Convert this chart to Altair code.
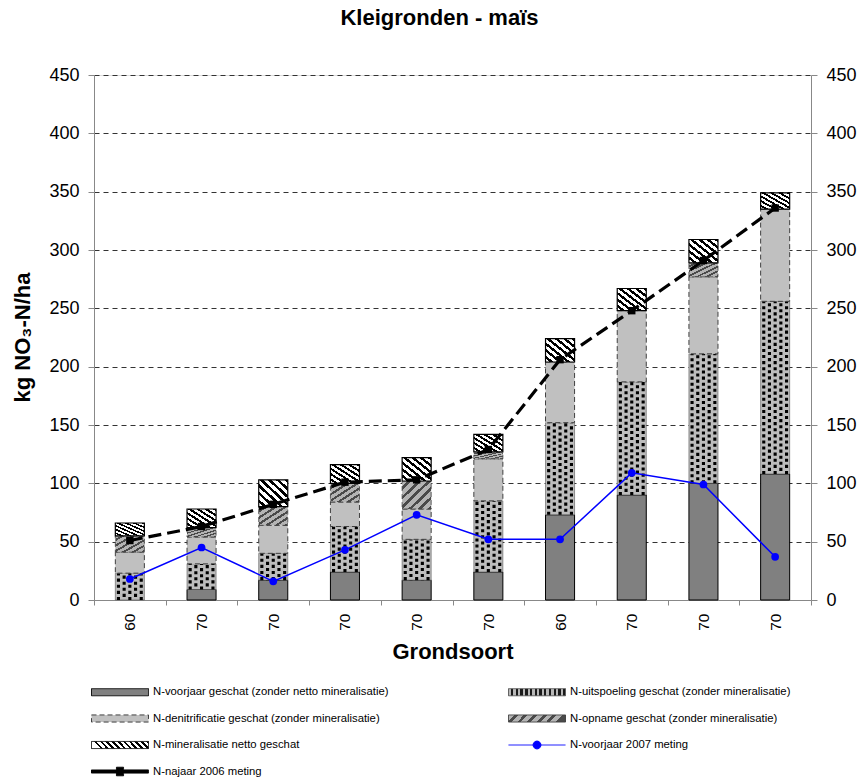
import json
import altair as alt
import pandas as pd

# Soil type label per bar (x axis)
labels = ["60", "70", "70", "70", "70", "70", "60", "70", "70", "70"]

# Stacked components (kg NO3-N/ha)
voorjaar = [0, 9, 17, 24, 17, 24, 73, 90, 100, 108]
uitspoeling = [23, 22, 23, 39, 35, 61, 79, 97, 111, 148]
denitrificatie = [18, 23, 24, 21, 26, 36, 52, 61, 66, 79]
opname = [14, 8, 16, 16, 24, 6, 0, 0, 12, 0]
mineralisatie = [11, 16, 23, 16, 20, 15, 20, 19, 20, 14]

# Measured series
meting_2007 = [18, 45, 16, 43, 73, 52, 52, 109, 99, 37]
meting_2006 = [51, 63, 82, 101, 103, 129, 206, 248, 291, 336]

series_names = [
    "N-voorjaar geschat (zonder netto mineralisatie)",
    "N-uitspoeling geschat (zonder mineralisatie)",
    "N-denitrificatie geschat (zonder mineralisatie)",
    "N-opname geschat (zonder mineralisatie)",
    "N-mineralisatie netto geschat",
    "N-voorjaar 2007 meting",
    "N-najaar 2006 meting",
]
# legend fills columns top-to-bottom; this order puts the entries in two
# columns, read row by row in the series order above
legend_order = [0, 2, 4, 6, 1, 3, 5]

FONT = "Liberation Sans"

# ---- long table with stack start/end per segment
rows = []
base = [0] * len(labels)
for name, vals in zip(series_names[:5], [voorjaar, uitspoeling, denitrificatie, opname, mineralisatie]):
    for i, v in enumerate(vals):
        rows.append({"i": i, "serie": name, "v": v, "y0": base[i], "y1": base[i] + v})
        base[i] += v
stack = pd.DataFrame(rows)
lines = pd.DataFrame({"i": list(range(len(labels))), "m2007": meting_2007, "m2006": meting_2006})


def stripes(c1, c2, n, frac, x1, y1, x2, y2):
    stops = []
    for k in range(n):
        a = k / n
        b = (k + frac) / n
        c = (k + 1) / n
        stops += [
            {"offset": a, "color": c1},
            {"offset": b, "color": c1},
            {"offset": b, "color": c2},
            {"offset": c, "color": c2},
        ]
    return {"gradient": "linear", "stops": stops, "x1": x1, "y1": y1, "x2": x2, "y2": y2}


# hatch fills for the bars
hatch_mineral = stripes("white", "black", 7, 0.55, 0, 1, 1, 0)
hatch_opname = stripes("#b4b4b4", "#4a4a4a", 6, 0.6, 0, 0, 1, 1)
# hatch fills for the legend swatches (wide, flat boxes)
leg_mineral = stripes("white", "black", 10, 0.55, 0, 0.12, 1, 0)
leg_opname = stripes("#b4b4b4", "#4a4a4a", 6, 0.6, 0, 0, 1, 0.12)
leg_uit = stripes("#b8b8b8", "#1a1a1a", 12, 0.5, 0, 0, 1, 0)

label_expr = "[" + ",".join(f"'{l}'" for l in labels) + "][datum.value]"

x_enc = alt.X(
    "i:O",
    scale=alt.Scale(paddingInner=0, paddingOuter=0),
    axis=alt.Axis(
        title="Grondsoort",
        labelExpr=label_expr,
        labelAngle=270,
        tickBand="extent",
        tickSize=5,
        labelPadding=8,
        labelFontSize=15.5,
        titleFontSize=22,
        titleFontWeight="bold",
        titlePadding=11,
        grid=False,
    ),
)

y_scale = alt.Scale(domain=[0, 450], nice=False)
y_axis = alt.Axis(
    title="kg NO₃-N/ha",
    values=list(range(0, 451, 50)),
    grid=True,
    gridColor="#333333",
    gridDash=[5, 4],
    gridWidth=1,
    tickSize=6,
    labelPadding=9,
    labelFontSize=18,
    titleFontSize=22,
    titleFontWeight="bold",
    titleAngle=270,
    titleX=-72,
    titleY=262,
    titleAlign="center",
    titleBaseline="middle",
)


def seg(name):
    return alt.Chart(stack).transform_filter(
        f"datum.serie == '{name}' && datum.v > 0"
    )


band = alt.RelativeBandSize(band=0.405)
enc = dict(x=x_enc, y=alt.Y("y0:Q", scale=y_scale, axis=y_axis), y2="y1:Q")

bar_voorjaar = seg(series_names[0]).mark_bar(
    width=band, fill="#808080", stroke="black", strokeWidth=1
).encode(**enc)

bar_uit = seg(series_names[1]).mark_bar(
    width=band, fill="#bdbdbd", stroke="#555555", strokeWidth=0.6
).encode(**enc)

# dotted texture: dashed vertical rules across the uitspoeling segment
dot_layers = []
for k, off in enumerate([-11.4, -5.7, 0, 5.7, 11.4]):
    dot_layers.append(
        seg(series_names[1]).mark_rule(
            xOffset=off,
            color="black",
            strokeWidth=3.1,
            strokeDash=[3.1, 3.0],
            strokeDashOffset=0 if k % 2 == 0 else 3.05,
            strokeCap="butt",
        ).encode(**enc)
    )

bar_denit = seg(series_names[2]).mark_bar(
    width=band, fill="#c0c0c0", stroke="#404040", strokeWidth=1, strokeDash=[5, 3]
).encode(**enc)

bar_opname = seg(series_names[3]).mark_bar(
    width=band, fill=hatch_opname, stroke="#404040", strokeWidth=0.8, strokeDash=[5, 3]
).encode(**enc)

bar_mineral = seg(series_names[4]).mark_bar(
    width=band, fill=hatch_mineral, stroke="black", strokeWidth=1.2
).encode(**enc)

line_2007 = alt.Chart(lines).mark_line(color="#0000ff", strokeWidth=1.5).encode(
    x=x_enc, y=alt.Y("m2007:Q", scale=y_scale, axis=y_axis)
)
pts_2007 = alt.Chart(lines).mark_circle(color="#0000ff", size=60, opacity=1).encode(
    x=x_enc, y=alt.Y("m2007:Q", scale=y_scale, axis=y_axis)
)
line_2006 = alt.Chart(lines).mark_line(color="black", strokeWidth=3.2, strokeDash=[13, 6]).encode(
    x=x_enc, y=alt.Y("m2006:Q", scale=y_scale, axis=y_axis)
)
pts_2006 = alt.Chart(lines).mark_square(color="black", size=55, opacity=1).encode(
    x=x_enc, y=alt.Y("m2006:Q", scale=y_scale, axis=y_axis)
)

# ---- legend: one entry per series, swatch drawn from per-channel scales
rect_path = "M-4,-0.5H4V0.5H-4Z"
circle_path = "M-4,0H4M0.55,0A0.55,0.55 0 1,1 -0.55,0A0.55,0.55 0 1,1 0.55,0Z"
thick_square_path = (
    "M-4,-0.22H-0.5V-0.6H0.5V-0.22H4V0.22H0.5V0.6H-0.5V0.22H-4Z"
)


def grad_expr(g):
    return alt.ExprRef(expr=json.dumps(g))


legend_fill = [
    "#808080",
    grad_expr(leg_uit),
    "#c0c0c0",
    grad_expr(leg_opname),
    grad_expr(leg_mineral),
    "#0000ff",
    "#000000",
]
legend_stroke = ["#000000", "#555555", "#404040", "#404040", "#000000", "#0000ff", "#000000"]
legend_width = [1, 0.6, 1, 0.8, 1.2, 1.5, 0.5]
legend_shape = [rect_path] * 5 + [circle_path, thick_square_path]
legend_dash = [[1, 0], [1, 0], [5, 3], [1, 0], [1, 0], [1, 0], [1, 0]]


def ordered(values):
    return [values[k] for k in legend_order]


legend_domain = ordered(series_names)

legend = alt.Legend(
    title=None,
    orient="none",
    legendX=18,
    legendY=609,
    columns=2,
    columnPadding=117,
    rowPadding=12.5,
    padding=0,
    labelFont=FONT,
    labelFontSize=11.3,
    labelColor="black",
    labelLimit=500,
    labelOffset=25,
    symbolSize=203,
    symbolOpacity=1,
)

legend_layer = (
    alt.Chart(pd.DataFrame({"serie": series_names}))
    .transform_filter("false")
    .mark_point(filled=True, opacity=1, size=203)
    .encode(
        fill=alt.Fill("serie:N", scale=alt.Scale(domain=legend_domain, range=ordered(legend_fill)), legend=legend),
        stroke=alt.Stroke("serie:N", scale=alt.Scale(domain=legend_domain, range=ordered(legend_stroke)), legend=legend),
        strokeWidth=alt.StrokeWidth("serie:N", scale=alt.Scale(domain=legend_domain, range=ordered(legend_width)), legend=legend),
        shape=alt.Shape("serie:N", scale=alt.Scale(domain=legend_domain, range=ordered(legend_shape)), legend=legend),
        strokeDash=alt.StrokeDash("serie:N", scale=alt.Scale(domain=legend_domain, range=ordered(legend_dash)), legend=legend),
    )
)

main = alt.layer(
    bar_voorjaar,
    bar_uit,
    *dot_layers,
    bar_denit,
    bar_opname,
    bar_mineral,
    line_2007,
    pts_2007,
    line_2006,
    pts_2006,
    legend_layer,
)

right_axis = alt.Chart(lines).mark_point(opacity=0).encode(
    x=x_enc,
    y=alt.Y(
        "m2006:Q",
        scale=alt.Scale(domain=[0, 450], nice=False),
        axis=alt.Axis(
            orient="right",
            title=None,
            values=list(range(0, 451, 50)),
            grid=False,
            tickSize=6,
            labelPadding=9,
            labelFontSize=18,
        ),
    ),
)

chart = (
    alt.layer(main, right_axis)
    .resolve_scale(y="independent")
    .properties(
        width=717,
        height=525,
        autosize=alt.AutoSizeParams(type="none"),
        padding={"left": 94, "top": 75, "right": 51, "bottom": 183},
        title=alt.TitleParams(
            "Kleigronden - maïs",
            font=FONT,
            fontSize=22,
            fontWeight="bold",
            color="black",
            anchor="middle",
            frame="group",
            dx=-13,
            offset=36,
        ),
    )
    .configure_axis(
        labelFont=FONT,
        titleFont=FONT,
        labelColor="black",
        titleColor="black",
        domainColor="#222222",
        tickColor="#222222",
    )
    .configure_view(stroke="#808080", strokeWidth=1)
    .configure(background="white")
)

chart.save("out.html", embed_options={"renderer": "svg", "actions": False})
